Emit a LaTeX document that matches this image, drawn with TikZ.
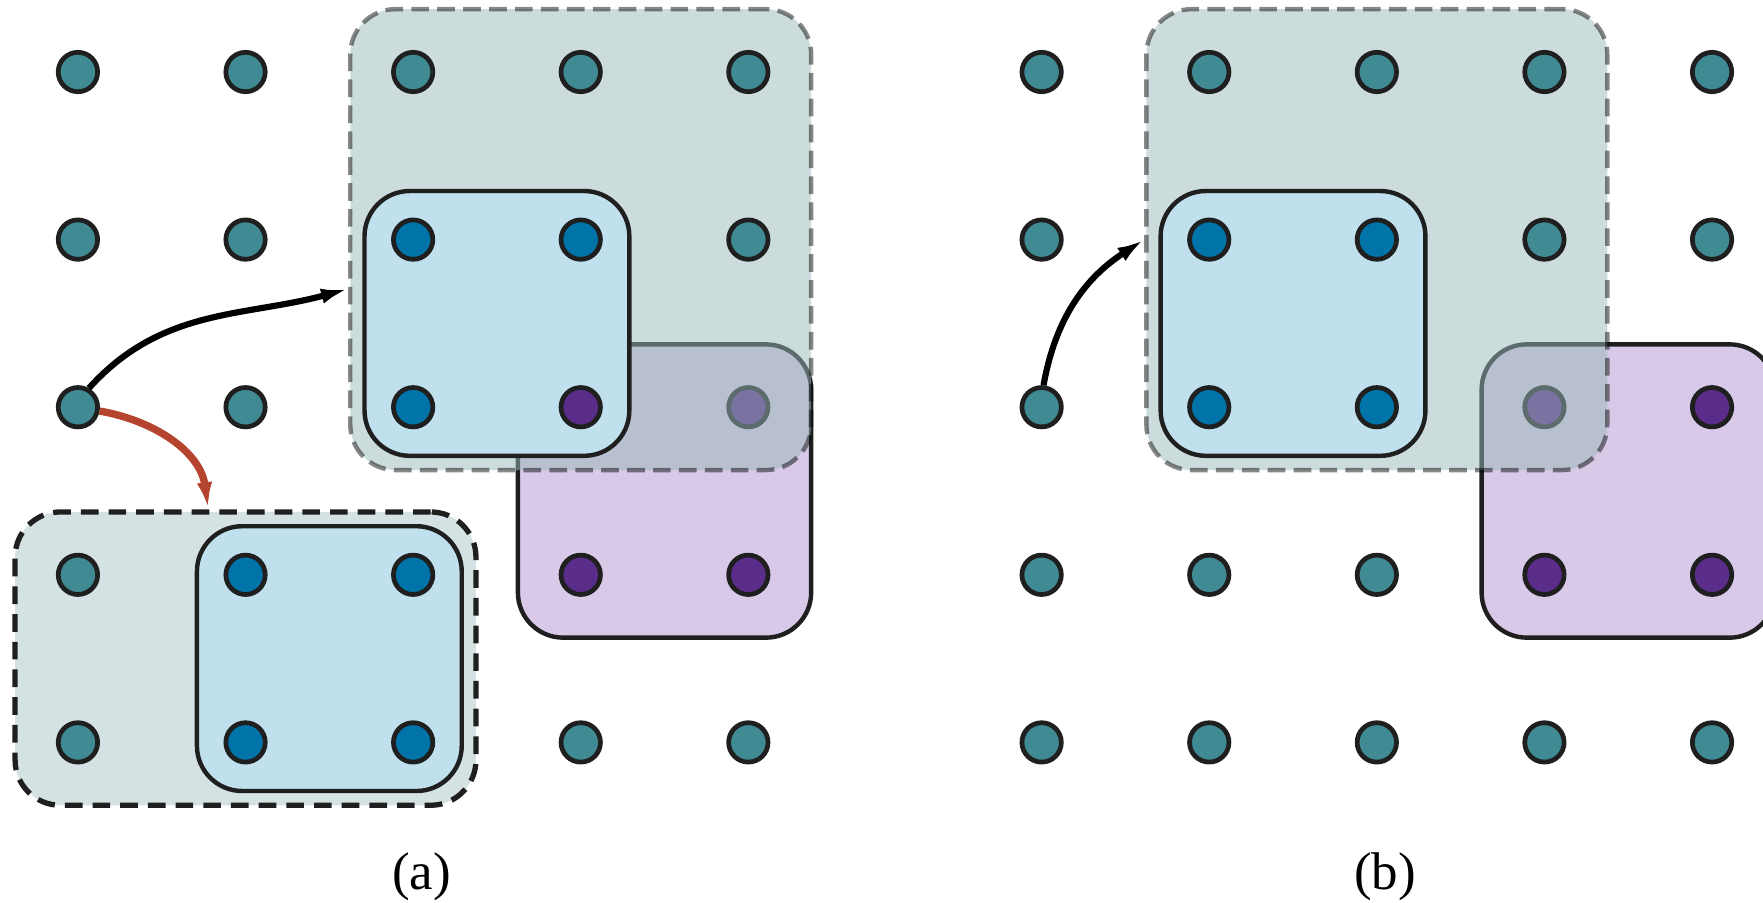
\documentclass[tikz,border=0pt]{standalone}
\usepackage{fontspec}
\setmainfont{Liberation Serif}
\usetikzlibrary{arrows.meta,fit}

\definecolor{cTeal}{HTML}{408A94}
\definecolor{cBlue}{HTML}{0073A8}
\definecolor{cPurple}{HTML}{5B2D8A}
\definecolor{cSky}{HTML}{BFE0EC}
\definecolor{cLilac}{HTML}{D8C9E9}
\definecolor{cSage}{HTML}{99B9B9}
\definecolor{cMist}{HTML}{D5E2E4}
\definecolor{cRust}{HTML}{B4442E}

\begin{document}
\begin{tikzpicture}[
  site/.style={circle, draw=black!88, line width=0.8pt, minimum size=0.235cm, inner sep=0pt},
  ts/.style={site, fill=cTeal},
  bs/.style={site, fill=cBlue},
  ps/.style={site, fill=cPurple},
  grp/.style={rectangle, rounded corners=0.27cm, line width=0.75pt, inner sep=0.375cm},
  gbox/.style={grp, draw=black, draw opacity=0.47, fill=cSage, fill opacity=0.5,
               dash pattern=on 3pt off 1.4pt},
  pbox/.style={grp, draw=black!88, fill=cLilac},
  bbox/.style={grp, draw=black!88, fill=cSky, inner sep=0.29cm},
  dbox/.style={grp, draw=black!88, fill=cMist, line width=0.9pt,
               dash pattern=on 3pt off 1.7pt},
  ar/.style={-{Latex[length=4.6pt,width=2.6pt]}, line width=1.05pt},
  rar/.style={ar, draw=cRust, line width=1.25pt},
  lbl/.style={font=\fontsize{9}{10}\selectfont}
]
\useasboundingbox (-0.465,-4.958) rectangle (10.054,0.4296);

% (a)
\node[pbox, fit={(3,-2)(4,-3)}] (pA) {};
\node[ps] (a33) at (3,-3) {}; \node[ps] (a43) at (4,-3) {}; \node[ps] (a42) at (4,-2) {};
\node[gbox, fit={(2,0)(4,-2)}] (gA) {};
\node[bbox, fit={(2,-1)(3,-2)}] (bA) {};
\node[dbox, fit={(0,-3)(2,-4)}] (dA) {};
\node[bbox, fit={(1,-3)(2,-4)}] (bD) {};

\node[ts] (a00) at (0,0) {}; \node[ts] (a10) at (1,0) {}; \node[ts] (a20) at (2,0) {}; \node[ts] (a30) at (3,0) {}; \node[ts] (a40) at (4,0) {};
\node[ts] (a01) at (0,-1) {}; \node[ts] (a11) at (1,-1) {}; \node[bs] (a21) at (2,-1) {}; \node[bs] (a31) at (3,-1) {}; \node[ts] (a41) at (4,-1) {};
\node[ts] (a02) at (0,-2) {}; \node[ts] (a12) at (1,-2) {}; \node[bs] (a22) at (2,-2) {}; \node[ps] (a32) at (3,-2) {};
\node[ts] (a03) at (0,-3) {}; \node[bs] (a13) at (1,-3) {}; \node[bs] (a23) at (2,-3) {};
\node[ts] (a04) at (0,-4) {}; \node[bs] (a14) at (1,-4) {}; \node[bs] (a24) at (2,-4) {}; \node[ts] (a34) at (3,-4) {}; \node[ts] (a44) at (4,-4) {};

\draw[ar] (a02.60) to[out=48,in=195] (gA.192);
\draw[rar] (a02) to[out=-10,in=98] (dA.104);
\node[lbl] (capA) at (2.05,-4.8) {(a)};

% (b)
\node[pbox, fit={(8.75,-2)(9.75,-3)}] (pB) {};
\node[ps] (b32) at (8.75,-2) {}; \node[ps] (b42) at (9.75,-2) {}; \node[ps] (b33) at (8.75,-3) {}; \node[ps] (b43) at (9.75,-3) {};
\node[gbox, fit={(6.75,0)(8.75,-2)}] (gB) {};
\node[bbox, fit={(6.75,-1)(7.75,-2)}] (bB) {};

\node[ts] (b00) at (5.75,0) {}; \node[ts] (b10) at (6.75,0) {}; \node[ts] (b20) at (7.75,0) {}; \node[ts] (b30) at (8.75,0) {}; \node[ts] (b40) at (9.75,0) {};
\node[ts] (b01) at (5.75,-1) {}; \node[bs] (b11) at (6.75,-1) {}; \node[bs] (b21) at (7.75,-1) {}; \node[ts] (b31) at (8.75,-1) {}; \node[ts] (b41) at (9.75,-1) {};
\node[ts] (b02) at (5.75,-2) {}; \node[bs] (b12) at (6.75,-2) {}; \node[bs] (b22) at (7.75,-2) {};
\node[ts] (b03) at (5.75,-3) {}; \node[ts] (b13) at (6.75,-3) {}; \node[ts] (b23) at (7.75,-3) {};
\node[ts] (b04) at (5.75,-4) {}; \node[ts] (b14) at (6.75,-4) {}; \node[ts] (b24) at (7.75,-4) {}; \node[ts] (b34) at (8.75,-4) {}; \node[ts] (b44) at (9.75,-4) {};

\draw[ar] (b02.85) to[out=80,in=213] (gB.west);
\node[lbl] (capB) at (7.8,-4.8) {(b)};
\end{tikzpicture}
\end{document}
